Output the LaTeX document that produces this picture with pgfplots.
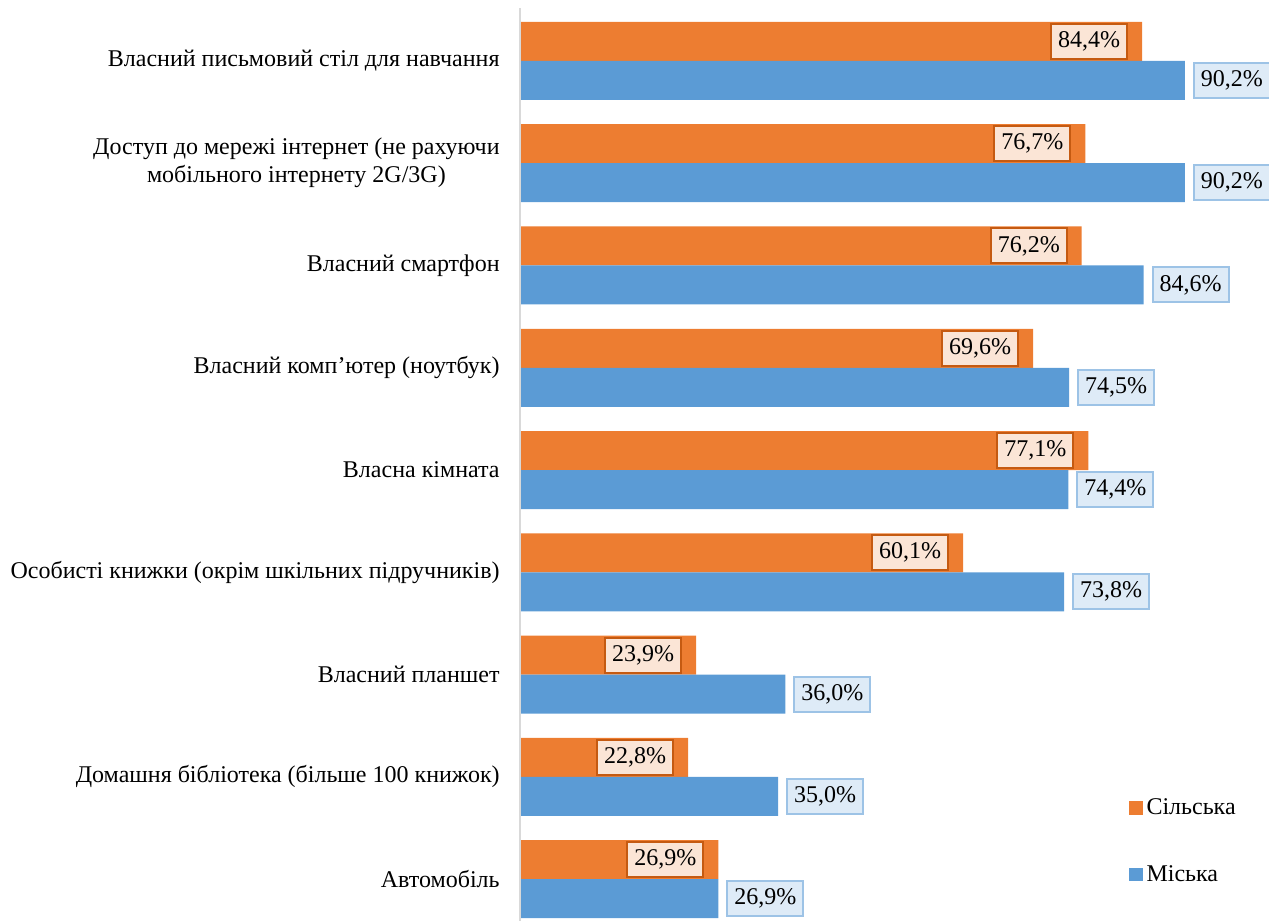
\documentclass[border=0pt]{standalone}
\usepackage{pgfplots}
\pgfplotsset{compat=1.18}
\usepackage{fontspec}
\setmainfont{Liberation Serif}
\definecolor{cOr}{HTML}{ED7D31}
\definecolor{cBl}{HTML}{5B9BD5}
\definecolor{cOrF}{HTML}{FBE5D6}
\definecolor{cOrD}{HTML}{C55A11}
\definecolor{cBlF}{HTML}{DEEBF7}
\definecolor{cBlD}{HTML}{9DC3E6}
\definecolor{cAx}{HTML}{D9D9D9}
\begin{document}
\begin{tikzpicture}
\useasboundingbox (-260bp,0) rectangle (374.5bp,460.5bp);
\begin{axis}[
  at={(0,0)}, anchor=south west,
  scale only axis,
  width=374.5bp, height=456.5bp,
  xmin=0, xmax=101.6,
  ymin=-0.41, ymax=8.518,
  xbar, bar width=19.5bp,
  axis line style={draw=none},
  xtick=\empty,
  ytick={0,1,2,3,4,5,6,7,8},
  yticklabels={Автомобіль,
    Домашня бібліотека (більше 100 книжок),
    Власний планшет,
    Особисті книжки (окрім шкільних підручників),
    Власна кімната,
    Власний комп’ютер (ноутбук),
    Власний смартфон,
    {Доступ до мережі інтернет (не рахуючи\\мобільного інтернету 2G/3G)},
    Власний письмовий стіл для навчання},
  major tick length=0pt,
  ytick style={draw=none},
  yticklabel style={align=center, inner sep=0pt, xshift=-10bp, font=\fontsize{12bp}{14bp}\selectfont},
  /pgf/number format/assume math mode=true,
  point meta=x,
  nodes near coords={\pgfmathprintnumber[fixed,fixed zerofill,precision=1,use comma]{\pgfplotspointmeta}\%},
  legend cell align=left,
  legend style={at={(axis cs:82.6,0.83)}, anchor=north west, draw=none, fill=none,
    row sep=20bp, font=\fontsize{12bp}{14bp}\selectfont, inner sep=0pt,
    /tikz/every even column/.append style={column sep=2bp}},
  legend image code/.code={\fill[#1] (0bp,-3.3bp) rectangle (6.6bp,3.3bp);},
  clip=false,
]
\addplot[fill=cOr, draw=none, bar shift=9.75bp,
  every node near coord/.style={anchor=east, xshift=-7bp, yshift=9.75bp, fill=cOrF, draw=cOrD, line width=1bp,
    inner xsep=3.5bp, minimum height=17.5bp, text=black, font=\fontsize{12bp}{14bp}\selectfont}]
  coordinates {(26.9,0) (22.8,1) (23.9,2) (60.1,3) (77.1,4) (69.6,5) (76.2,6) (76.7,7) (84.4,8)};
\addlegendentry{Сільська}
\addplot[fill=cBl, draw=none, bar shift=-9.75bp,
  every node near coord/.style={anchor=west, xshift=4bp, yshift=-9.75bp, fill=cBlF, draw=cBlD, line width=1bp,
    inner xsep=3.5bp, minimum height=17.5bp, text=black, font=\fontsize{12bp}{14bp}\selectfont}]
  coordinates {(26.9,0) (35.0,1) (36.0,2) (73.8,3) (74.4,4) (74.5,5) (84.6,6) (90.2,7) (90.2,8)};
\addlegendentry{Міська}
\draw[cAx, line width=1.2bp] (axis cs:0,-0.41) -- (axis cs:0,8.518);
\end{axis}
\end{tikzpicture}
\end{document}
